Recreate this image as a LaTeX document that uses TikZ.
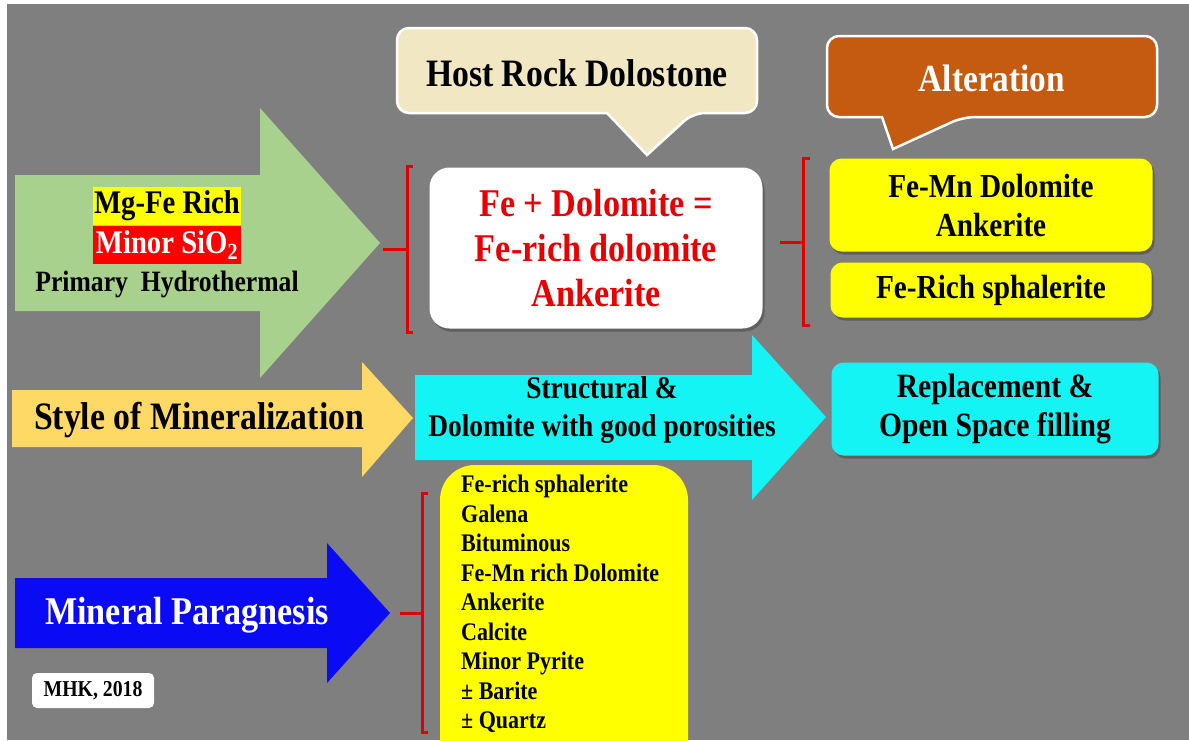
\documentclass[tikz,border=0pt]{standalone}
\usepackage{fontspec}
\setmainfont{Liberation Serif}[FakeStretch=0.87]
\usetikzlibrary{shadows}
\newcommand\setfs[2]{\fontsize{#1}{#2}\selectfont}
\definecolor{bggray}{HTML}{7F7F7F}
\definecolor{greenar}{HTML}{A9D18E}
\definecolor{beige}{HTML}{F2E7C3}
\definecolor{altor}{HTML}{C55A11}
\definecolor{ylw}{HTML}{FFFF00}
\definecolor{gold}{HTML}{FFD966}
\definecolor{cyn}{HTML}{14F4F4}
\definecolor{blu}{HTML}{0A0AF5}
\definecolor{redtxt}{HTML}{E80000}
\definecolor{brk}{HTML}{E00000}
\tikzset{
  txt/.style={inner sep=0, align=center},
  fs/.style 2 args={font=\bfseries\setfs{#1}{#2}},
  bracket/.style={draw=brk, line width=3pt},
  callout/.style={draw=white, line width=2.5pt},
  box/.style={rounded corners=12pt, inner sep=0, align=center,
    general shadow={fill=black, opacity=0.25, shadow xshift=2pt, shadow yshift=-3pt}},
}
\begin{document}
\begin{tikzpicture}[x=1pt,y=-1pt]
\useasboundingbox (0,0) rectangle (1189,740);
\fill[white] (0,0) rectangle (1189,740);
\fill[bggray] (7,4) rectangle (1189,740);

% green arrow
\fill[greenar] (15,175) -- (260,175) -- (260,108) -- (380,243) -- (260,378) -- (260,311) -- (15,311) -- cycle;
\coordinate (gtip) at (383,249);
\node[txt, fs={33}{38}, fill=ylw, minimum width=148, minimum height=38] (mg) at (167,206) {Mg-Fe Rich};
\node[txt, fs={33}{38}, fill=red, text=white, minimum width=148, minimum height=38] (sio) at (167,245) {Minor SiO\textsubscript{2}};
\node[txt, fs={29.5}{34}] (prim) at (167,284) {Primary\ \ Hydrothermal};

% host rock callout
\path[callout, fill=beige] (607,113) [rounded corners=12] -- (397,113) -- (397,28) -- (757,28) -- (757,113) -- (693,113) [sharp corners] -- (647,155) -- cycle;
\node[txt, fs={38.8}{44}] (host) at (577,73) {Host Rock Dolostone};

% white box
\node[box, fs={39.3}{45}, fill=white, rounded corners=20pt, minimum width=333, minimum height=161, text=redtxt] (fe) at (596,248)
  {Fe + Dolomite =\\Fe-rich dolomite\\Ankerite};
\draw[bracket] (413,166) -- (407,166) -- (407,332) -- (413,332);
\draw[bracket] (gtip) -- (407,249);

% alteration callout
\path[callout, fill=altor] (882,117) [rounded corners=12] -- (827,117) -- (827,36) -- (1157,36) -- (1157,117) -- (963,117) [sharp corners] -- (893,149) -- cycle;
\node[txt, fs={38.3}{44}, text=white] (alt) at (992,78) {Alteration};

\node[box, fs={33.6}{39}, fill=ylw, minimum width=323, minimum height=93] (alt1) at (991,205) {Fe-Mn Dolomite\\Ankerite};
\node[box, fs={33.6}{39}, fill=ylw, minimum width=321, minimum height=55] (alt2) at (991,290) {Fe-Rich sphalerite};
\coordinate (rstub) at (780,242);
\draw[bracket] (810,158) -- (803,158) -- (803,325) -- (810,325);
\draw[bracket] (rstub) -- (803,242);

% style of mineralization arrow
\fill[gold] (12,390) -- (362,390) -- (362,362) -- (413,418) -- (362,477) -- (362,447) -- (12,447) -- cycle;
\node[txt, fs={38.8}{44}] (style) at (199,420) {Style of Mineralization};

% cyan arrow
\fill[cyn] (415,375) -- (752,375) -- (752,335) -- (826,417) -- (752,500) -- (752,460) -- (415,460) -- cycle;
\node[txt, fs={31.5}{38}] (struct) at (602,410) {Structural \&\\Dolomite with good porosities};

\node[box, fs={34}{39}, fill=cyn, minimum width=327, minimum height=93] (repl) at (995,409) {Replacement \&\\Open Space filling};

% blue arrow
\fill[blu] (15,578) -- (327,578) -- (327,543) -- (390,613) -- (327,683) -- (327,648) -- (15,648) -- cycle;
\node[txt, fs={39.3}{44}, text=white] (mp) at (187,615) {Mineral Paragnesis};

\node[txt, fs={22.7}{26}, fill=white, rounded corners=5pt, minimum width=122, minimum height=35] (mhk) at (93,690.5) {MHK, 2018};

% bottom yellow box
\fill[ylw, rounded corners=35pt] (440,465) rectangle (688,775);
\node[txt, fs={25.3}{29.5}, anchor=north west, align=left] (list) at (461,475) {Fe-rich sphalerite\\Galena\\Bituminous\\Fe-Mn rich Dolomite\\Ankerite\\Calcite\\Minor Pyrite\\± Barite\\± Quartz};
\coordinate (bstub) at (400,613);
\draw[bracket] (428,493) -- (422,493) -- (422,732) -- (428,732);
\draw[bracket] (bstub) -- (422,613);
\end{tikzpicture}
\end{document}
